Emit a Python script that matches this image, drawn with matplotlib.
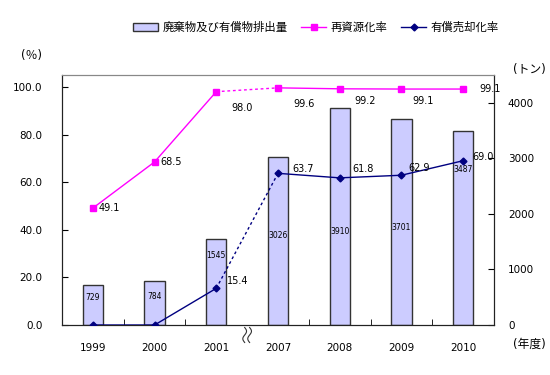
import numpy as np
import matplotlib.pyplot as plt

plt.rcParams['font.family'] = ['DejaVu Sans', 'Noto Sans CJK JP']

# data
years = ['1999', '2000', '2001', '2007', '2008', '2009', '2010']
waste = [729, 784, 1545, 3026, 3910, 3701, 3487]          # トン
recycle = [49.1, 68.5, 98.0, 99.6, 99.2, 99.1, 99.1]      # 再資源化率 %
sale = [0, 0, 15.4, 63.7, 61.8, 62.9, 69.0]               # 有償売却化率 %

# where Excel put the labels (offsets in px, y of bar labels in tonnes)
rec_off = [(6, 0), (6, 0), (15, -16), (15, -16), (15, -12), (11, -12), (16, 0)]
sale_off = [None, None, (21, 7), (25, 4), (23, 9), (18, 7), (20, 4)]
bar_lab_y = [490, 510, 1260, 1620, 1674, 1746, 2790]

x = np.arange(len(years))

fig = plt.figure(figsize=(5.5, 3.75), dpi=100)
ax2 = fig.add_axes([62/550, 1-325/375, 432/550, 250/375])   # tonnes (bars)
ax = ax2.twinx()                                             # percent (lines)
ax.yaxis.tick_left()
ax2.yaxis.tick_right()

# bars
ax2.bar(x, waste, width=0.33, color='#ccccff', edgecolor='#333333', linewidth=1, zorder=2)
for i, v in enumerate(waste):
    ax2.text(x[i], bar_lab_y[i], str(v), ha='center', va='center', fontsize=5.5)
ax2.set_ylim(0, 4500)
ax2.set_yticks([0, 1000, 2000, 3000, 4000])
ax2.set_xlim(-0.5, 6.5)

# lines: solid parts, and a broken segment across the gap 2001->2007
pink = '#ff00ff'
navy = '#000080'
for ys, col, mk, ms in [(recycle, pink, 's', 4.5), (sale, navy, 'D', 3.5)]:
    ax.plot(x[:3], ys[:3], color=col, lw=1, marker=mk, ms=ms, zorder=3)
    ax.plot(x[3:], ys[3:], color=col, lw=1, marker=mk, ms=ms, zorder=3)
    ax.plot(x[2:4], ys[2:4], color=col, lw=1, ls=(0, (2, 2)), zorder=3)

for i, v in enumerate(recycle):
    ax.annotate(f'{v:.1f}', (x[i], v), xytext=rec_off[i], textcoords='offset pixels',
                ha='left', va='center', fontsize=7)
for i, v in enumerate(sale):
    if sale_off[i] is None:
        continue
    ax.annotate(f'{v:.1f}', (x[i], v), xytext=sale_off[i], textcoords='offset pixels',
                ha='center', va='center', fontsize=7)

ax.set_ylim(0, 105)
ax.set_yticks(np.arange(0, 101, 20))
ax.set_yticklabels([f'{t:.1f}' for t in np.arange(0, 101, 20)])

# axes styling
for a in (ax, ax2):
    for s in ('left', 'right', 'bottom'):
        a.spines[s].set_color('#222222')
    a.spines['top'].set_color('#888888')
ax.tick_params(axis='y', direction='in', length=4, pad=14, labelsize=7.5)
ax2.tick_params(axis='y', direction='in', length=4, pad=10, labelsize=7.5)
ax2.set_xticks(x)
ax2.set_xticklabels(years)
ax2.set_xticks([0.5, 1.5, 3.5, 4.5, 5.5], minor=True)
ax2.tick_params(axis='x', which='major', length=0, pad=13, labelsize=7.5)
ax2.tick_params(axis='x', which='minor', direction='in', length=4)

# break mark on the axis between 2001 and 2007
t = np.linspace(0, 1, 40)
for dx in (-0.04, 0.04):
    xs = 2.5 + dx + 0.03 * np.sin(t * 2 * np.pi)
    ys = -0.01 - 0.06 * t
    ax2.plot(xs, ys, color='#333333', lw=0.8, transform=ax2.get_xaxis_transform(), clip_on=False)

# unit labels
fig.text(31/550, 1-55/375, '(％)', ha='center', va='center', fontsize=8.5)
fig.text(529/550, 1-70/375, '(トン)', ha='center', va='center', fontsize=8.5)
fig.text(529/550, 1-344/375, '(年度)', ha='center', va='center', fontsize=8.5)

# legend
h1 = plt.Rectangle((0, 0), 1, 1, facecolor='#ccccff', edgecolor='#333333')
h2 = plt.Line2D([], [], color=pink, marker='s', ms=4.5, lw=1)
h3 = plt.Line2D([], [], color=navy, marker='D', ms=3.5, lw=1)
fig.legend([h1, h2, h3], ['廃棄物及び有償物排出量', '再資源化率', '有償売却化率'],
           loc='center', bbox_to_anchor=(316/550, 1-27/375), ncol=3, frameon=False,
           fontsize=8.2, handlelength=2.2, columnspacing=1.2, handletextpad=0.4)

fig.savefig('out.png', dpi=100)
